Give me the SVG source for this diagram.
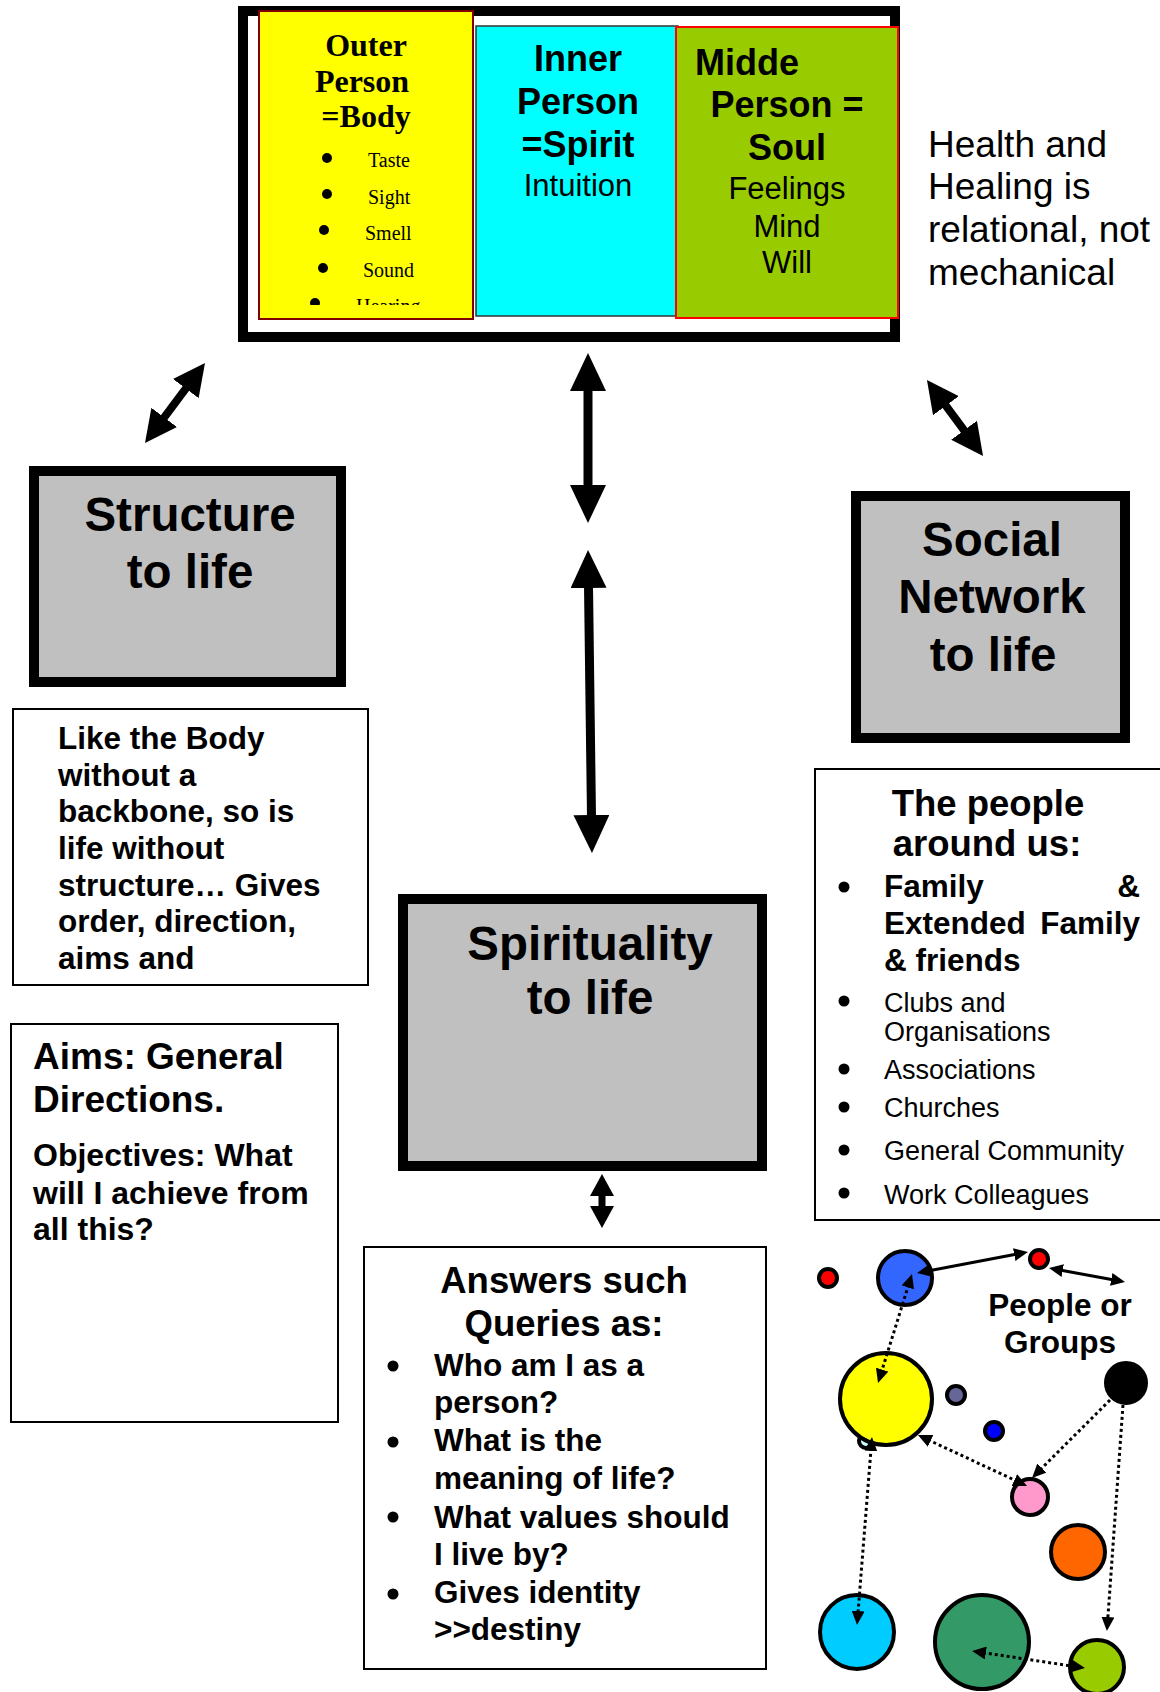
<svg xmlns="http://www.w3.org/2000/svg" width="1160" height="1692" viewBox="0 0 1160 1692">
<style>
.sans{font-family:"Liberation Sans",Arial,sans-serif;fill:#000}
.serif{font-family:"Liberation Serif","Times New Roman",serif;fill:#000}
.b{font-weight:bold}
.mid{text-anchor:middle}
.end{text-anchor:end}
.gray{fill:#C0C0C0;stroke:#000;stroke-width:10}
.tbox{fill:#fff;stroke:#000;stroke-width:2}
.node{stroke:#000;stroke-width:4}
.big{stroke:#000;fill:none}
.thin{stroke:#000;stroke-width:3;fill:none}
.dot{stroke:#000;stroke-width:3;fill:none;stroke-dasharray:3 3}
.bul{fill:#000}
</style>
<defs>
<marker id="mBig" markerUnits="userSpaceOnUse" markerWidth="38" markerHeight="36" viewBox="0 0 38 36" refX="10" refY="18" orient="auto-start-reverse"><path d="M0,0 L38,18 L0,36 z" fill="#000"/></marker>
<marker id="mDiag" markerUnits="userSpaceOnUse" markerWidth="32" markerHeight="32" viewBox="0 0 32 32" refX="8" refY="16" orient="auto-start-reverse"><path d="M0,0 L32,16 L0,32 z" fill="#000"/></marker>
<marker id="mMid" markerUnits="userSpaceOnUse" markerWidth="22" markerHeight="24" viewBox="0 0 22 24" refX="6" refY="12" orient="auto-start-reverse"><path d="M0,0 L22,12 L0,24 z" fill="#000"/></marker>
<marker id="mSm" markerUnits="userSpaceOnUse" markerWidth="14" markerHeight="13" viewBox="0 0 14 13" refX="3" refY="6.5" orient="auto-start-reverse"><path d="M0,0 L14,6.5 L0,13 z" fill="#000"/></marker>
<clipPath id="clipY"><rect x="259" y="11" width="214" height="294"/></clipPath>
</defs>

<g id="person-frame">
<rect x="243" y="11" width="652" height="326" fill="#fff" stroke="#000" stroke-width="10"/>
</g>

<g id="outer-person">
<rect x="259" y="11" width="214" height="308" fill="#FFFF00" stroke="#800000" stroke-width="2"/>
<text class="serif b mid" font-size="32" x="366" y="56">Outer</text>
<text class="serif b mid" font-size="32" x="362" y="92">Person</text>
<text class="serif b mid" font-size="32" x="366" y="127">=Body</text>
<g clip-path="url(#clipY)">
<circle class="bul" cx="327" cy="158" r="5"/>
<circle class="bul" cx="327" cy="194" r="5"/>
<circle class="bul" cx="324" cy="230" r="5"/>
<circle class="bul" cx="323" cy="268" r="5"/>
<circle class="bul" cx="315" cy="303" r="5"/>
<text class="serif" font-size="20" x="368" y="167">Taste</text>
<text class="serif" font-size="20" x="368" y="204">Sight</text>
<text class="serif" font-size="20" x="365" y="240">Smell</text>
<text class="serif" font-size="20" x="363" y="277">Sound</text>
<text class="serif" font-size="20" x="356" y="313">Hearing</text>
</g>
</g>

<g id="inner-person">
<rect x="476" y="26" width="202" height="290" fill="#00FFFF" stroke="#333" stroke-width="1.5"/>
<text class="sans b mid" font-size="36" x="578" y="71">Inner</text>
<text class="sans b mid" font-size="36" x="578" y="114">Person</text>
<text class="sans b mid" font-size="36" x="578" y="157">=Spirit</text>
<text class="sans mid" font-size="31" x="578" y="196">Intuition</text>
</g>

<g id="middle-person">
<rect x="676" y="27" width="222" height="291" fill="#99CC00" stroke="#FF0000" stroke-width="2"/>
<text class="sans b" font-size="36" x="695" y="75">Midde</text>
<text class="sans b mid" font-size="36" x="787" y="117">Person =</text>
<text class="sans b mid" font-size="36" x="787" y="160">Soul</text>
<text class="sans mid" font-size="31" x="787" y="199">Feelings</text>
<text class="sans mid" font-size="31" x="787" y="237">Mind</text>
<text class="sans mid" font-size="31" x="787" y="273">Will</text>
</g>

<g id="health-note">
<text class="sans" font-size="37" x="928" y="157">Health and</text>
<text class="sans" font-size="37" x="928" y="199">Healing is</text>
<text class="sans" font-size="37" x="928" y="242">relational, not</text>
<text class="sans" font-size="37" x="928" y="285">mechanical</text>
</g>

<g id="structure">
<rect class="gray" x="34" y="471" width="307" height="211"/>
<text class="sans b mid" font-size="47.5" x="190" y="531">Structure</text>
<text class="sans b mid" font-size="47.5" x="190" y="588">to life</text>
</g>

<g id="social">
<rect class="gray" x="856" y="496" width="269" height="242"/>
<text class="sans b mid" font-size="47.5" x="992" y="556">Social</text>
<text class="sans b mid" font-size="47.5" x="992" y="613">Network</text>
<text class="sans b mid" font-size="47.5" x="993" y="671">to life</text>
</g>

<g id="spirituality">
<rect class="gray" x="403" y="899" width="359" height="267"/>
<text class="sans b mid" font-size="47.5" x="590" y="960">Spirituality</text>
<text class="sans b mid" font-size="47.5" x="590" y="1014">to life</text>
</g>

<g id="structure-text">
<rect class="tbox" x="13" y="709" width="355" height="276" stroke-width="1.5"/>
<text class="sans b" font-size="31.5" x="58" y="749">Like the Body</text>
<text class="sans b" font-size="31.5" x="58" y="786">without a</text>
<text class="sans b" font-size="31.5" x="58" y="822">backbone, so is</text>
<text class="sans b" font-size="31.5" x="58" y="859">life without</text>
<text class="sans b" font-size="31.5" x="58" y="896">structure… Gives</text>
<text class="sans b" font-size="31.5" x="58" y="932">order, direction,</text>
<text class="sans b" font-size="31.5" x="58" y="969">aims and</text>
</g>

<g id="aims">
<rect class="tbox" x="11" y="1024" width="327" height="398" stroke-width="2.5"/>
<text class="sans b" font-size="37" x="33" y="1069">Aims: General</text>
<text class="sans b" font-size="37" x="33" y="1112">Directions.</text>
<text class="sans b" font-size="32" x="33" y="1166">Objectives: What</text>
<text class="sans b" font-size="32" x="33" y="1204">will I achieve from</text>
<text class="sans b" font-size="32" x="33" y="1240">all this?</text>
</g>

<g id="answers">
<rect class="tbox" x="364" y="1247" width="402" height="422" stroke-width="2.5"/>
<text class="sans b mid" font-size="36.5" x="564" y="1293">Answers such</text>
<text class="sans b mid" font-size="36.5" x="564" y="1336">Queries as:</text>
<circle class="bul" cx="393" cy="1366" r="5.5"/>
<circle class="bul" cx="393" cy="1442" r="5.5"/>
<circle class="bul" cx="393" cy="1517" r="5.5"/>
<circle class="bul" cx="393" cy="1594" r="5.5"/>
<text class="sans b" font-size="31.5" x="434" y="1376">Who am I as a</text>
<text class="sans b" font-size="31.5" x="434" y="1413">person?</text>
<text class="sans b" font-size="31.5" x="434" y="1451">What is the</text>
<text class="sans b" font-size="31.5" x="434" y="1489">meaning of life?</text>
<text class="sans b" font-size="31.5" x="434" y="1528">What values should</text>
<text class="sans b" font-size="31.5" x="434" y="1565">I live by?</text>
<text class="sans b" font-size="31.5" x="434" y="1603">Gives identity</text>
<text class="sans b" font-size="31.5" x="434" y="1640">&gt;&gt;destiny</text>
</g>

<g id="people">
<rect class="tbox" x="815" y="769" width="360" height="451" stroke-width="2"/>
<text class="sans b mid" font-size="36.5" x="988" y="816">The people</text>
<text class="sans b mid" font-size="36.5" x="987" y="856">around us:</text>
<circle class="bul" cx="844" cy="887" r="5.5"/>
<circle class="bul" cx="844" cy="1001" r="5.5"/>
<circle class="bul" cx="844" cy="1069" r="5.5"/>
<circle class="bul" cx="844" cy="1107" r="5.5"/>
<circle class="bul" cx="844" cy="1150" r="5.5"/>
<circle class="bul" cx="844" cy="1193" r="5.5"/>
<text class="sans b" font-size="31.5" x="884" y="897">Family</text>
<text class="sans b end" font-size="31.5" x="1140" y="897">&amp;</text>
<text class="sans b" font-size="31.5" x="884" y="934">Extended</text>
<text class="sans b end" font-size="31.5" x="1140" y="934">Family</text>
<text class="sans b" font-size="31.5" x="884" y="971">&amp; friends</text>
<text class="sans" font-size="27" x="884" y="1012">Clubs and</text>
<text class="sans" font-size="27" x="884" y="1041">Organisations</text>
<text class="sans" font-size="27" x="884" y="1079">Associations</text>
<text class="sans" font-size="27" x="884" y="1117">Churches</text>
<text class="sans" font-size="27" x="884" y="1160">General Community</text>
<text class="sans" font-size="27" x="884" y="1204">Work Colleagues</text>
</g>

<g id="people-label">
<text class="sans b mid" font-size="31.5" x="1060" y="1316">People or</text>
<text class="sans b mid" font-size="31.5" x="1060" y="1353">Groups</text>
</g>

<g id="circles">
<circle id="c-red1" class="node" cx="828" cy="1278" r="9" fill="#FF0000"/>
<circle id="c-blue" class="node" cx="905" cy="1278" r="27" fill="#3366FF"/>
<circle id="c-red2" class="node" cx="1039" cy="1259" r="9" fill="#FF0000"/>
<circle id="c-tiny" class="node" cx="866" cy="1441" r="7" fill="#CCFFFF" stroke-width="3"/>
<circle id="c-yellow" class="node" cx="886" cy="1399" r="46" fill="#FFFF00"/>
<circle id="c-slate" class="node" cx="956" cy="1395" r="9" fill="#666699"/>
<circle id="c-blue2" class="node" cx="994" cy="1431" r="9" fill="#0000FF"/>
<circle id="c-black" class="node" cx="1126" cy="1383" r="20" fill="#000"/>
<circle id="c-pink" class="node" cx="1030" cy="1497" r="18" fill="#FF99CC"/>
<circle id="c-orange" class="node" cx="1078" cy="1552" r="27" fill="#FF6600"/>
<circle id="c-cyan" class="node" cx="857" cy="1632" r="37" fill="#00CCFF"/>
<circle id="c-green" class="node" cx="982" cy="1642" r="47" fill="#339966"/>
<circle id="c-lime" class="node" cx="1097" cy="1667" r="27" fill="#99CC00"/>
</g>

<g id="connectors">
<line class="big" stroke-width="9" x1="588" y1="381" x2="588" y2="495" marker-start="url(#mBig)" marker-end="url(#mBig)"/>
<line class="big" stroke-width="9" x1="588.4" y1="578" x2="591.6" y2="825" marker-start="url(#mBig)" marker-end="url(#mBig)"/>
<line class="big" stroke-width="8" x1="159.4" y1="423.8" x2="190.6" y2="382.2" marker-start="url(#mDiag)" marker-end="url(#mDiag)"/>
<line class="big" stroke-width="8" x1="941.2" y1="399.3" x2="968.8" y2="436.7" marker-start="url(#mDiag)" marker-end="url(#mDiag)"/>
<line class="big" stroke-width="7" x1="602" y1="1190" x2="602" y2="1212" marker-start="url(#mMid)" marker-end="url(#mMid)"/>
<line class="thin" x1="927.8" y1="1271" x2="1017.2" y2="1254" marker-start="url(#mSm)" marker-end="url(#mSm)"/>
<line class="thin" x1="1059.8" y1="1270" x2="1114.2" y2="1280" marker-start="url(#mSm)" marker-end="url(#mSm)"/>
<line class="dot" x1="908.7" y1="1284.5" x2="881.3" y2="1372.5" marker-start="url(#mSm)" marker-end="url(#mSm)"/>
<line class="dot" x1="1110" y1="1400" x2="1039.8" y2="1470.2" marker-end="url(#mSm)"/>
<line class="dot" x1="927.9" y1="1439.7" x2="1017.1" y2="1481.3" marker-start="url(#mSm)" marker-end="url(#mSm)"/>
<line class="dot" x1="871.1" y1="1448" x2="857.9" y2="1614" marker-start="url(#mSm)" marker-end="url(#mSm)"/>
<line class="dot" x1="1123" y1="1405" x2="1107.7" y2="1620" marker-end="url(#mSm)"/>
<line class="dot" x1="982.9" y1="1652.6" x2="1074.1" y2="1666.4" marker-start="url(#mSm)" marker-end="url(#mSm)"/>
</g>
</svg>
